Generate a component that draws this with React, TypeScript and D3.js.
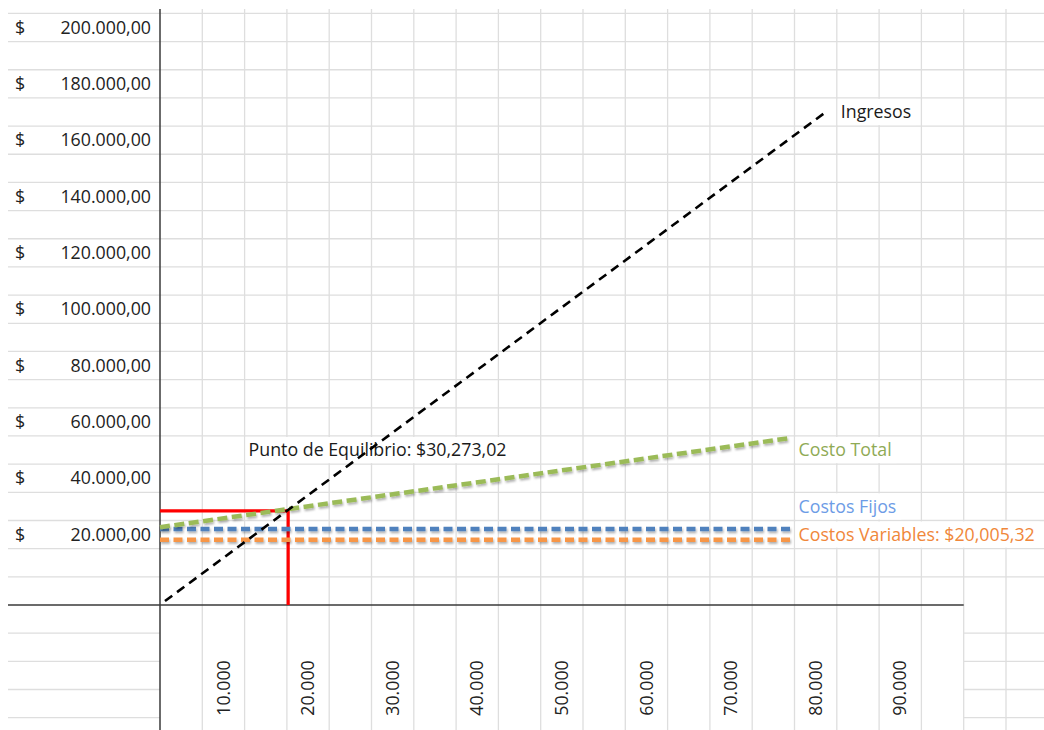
import React, { useEffect, useRef } from 'react';
import * as d3 from 'd3';

// axis ticks (units sold / money)
const xTicks = [10000, 20000, 30000, 40000, 50000, 60000, 70000, 80000, 90000];
const yTicks = [20000, 40000, 60000, 80000, 100000, 120000, 140000, 160000, 180000, 200000];

// series: [start, end]
const ingresosUnits = [590, 78700];
const ingresosValues = [1400, 175000];
const costoTotalUnits = [0, 74550];
const costoTotalValues = [27600, 59300];
const costosFijosUnits = [0, 74800];
const costosFijosValues = [27000, 27000];
const costosVariablesUnits = [0, 74800];
const costosVariablesValues = [23200, 23200];

const equilibrioUnits = 15150;
const equilibrioValue = 33400;

const labelIngresos = 'Ingresos';
const labelCostoTotal = 'Costo Total';
const labelCostosFijos = 'Costos Fijos';
const labelCostosVariables = 'Costos Variables: $20,005,32';
const labelEquilibrio = 'Punto de Equilibrio: $30,273,02';

const FONT = "'Open Sans', 'Noto Sans', sans-serif";

const App = () => {
    const ref = useRef<SVGSVGElement | null>(null);

    useEffect(() => {
        const W = 1044;
        const H = 730;
        const svg = d3.select(ref.current);
        svg.selectAll('*').remove();

        const x = d3.scaleLinear().domain([0, 95000]).range([160, 963.7]);
        const y = d3.scaleLinear().domain([0, 210000]).range([605, 13.4]);
        const colW = x(5000) - x(0);
        const rowH = y(0) - y(10000);

        const loc = d3.formatLocale({ decimal: ',', thousands: '.', grouping: [3], currency: ['$', ''] });
        const fmtMoney = loc.format(',.2f');
        const fmtUnits = loc.format(',.0f');

        // shadow in user space so flat (horizontal) lines still render
        const defs = svg.append('defs');
        const f = defs.append('filter').attr('id', 'shadow')
            .attr('filterUnits', 'userSpaceOnUse')
            .attr('x', 0).attr('y', 0).attr('width', W).attr('height', H);
        f.append('feDropShadow').attr('dx', 1).attr('dy', 2).attr('stdDeviation', 1.3)
            .attr('flood-color', '#000').attr('flood-opacity', 0.3);

        svg.append('rect').attr('width', W).attr('height', H).attr('fill', '#fff');

        // spreadsheet grid
        const grid = svg.append('g').attr('stroke', '#dedede').attr('stroke-width', 1.3);
        const hVals = d3.range(10000, 215000, 10000);
        grid.selectAll('.hg').data(hVals).enter().append('line')
            .attr('x1', 8).attr('x2', W)
            .attr('y1', d => y(d)).attr('y2', d => y(d));
        const belowVals = d3.range(-10000, -50000, -10000);
        grid.selectAll('.hl').data(belowVals).enter().append('line')
            .attr('x1', 8).attr('x2', x(0))
            .attr('y1', d => y(d)).attr('y2', d => y(d));
        grid.selectAll('.hr').data(belowVals).enter().append('line')
            .attr('x1', x(95000)).attr('x2', W)
            .attr('y1', d => y(d)).attr('y2', d => y(d));
        grid.selectAll('.vg').data(d3.range(5000, 110000, 5000)).enter().append('line')
            .attr('x1', d => x(d)).attr('x2', d => x(d))
            .attr('y1', 9).attr('y2', H);

        // text cells with white fill
        const labels = svg.append('g').attr('font-family', FONT).attr('font-size', 17.8);
        const addLabel = (text, u, v, color) => {
            const g = labels.append('g');
            const r = g.append('rect').attr('fill', '#fff');
            const t = g.append('text')
                .attr('x', x(u) + 4)
                .attr('y', y(v))
                .attr('dy', '0.35em')
                .attr('fill', color)
                .text(text);
            const w = (t.node() as SVGTextElement).getComputedTextLength();
            r.attr('x', x(u) + 1).attr('y', y(v) - rowH / 2 + 1)
                .attr('width', Math.min(w + 8, W - x(u) - 1)).attr('height', rowH - 2);
            return g;
        };

        // axes
        svg.append('line').attr('x1', x(0)).attr('x2', x(0)).attr('y1', 9).attr('y2', H)
            .attr('stroke', '#3a3a3a').attr('stroke-width', 1.5);
        svg.append('line').attr('x1', 8).attr('x2', x(95000)).attr('y1', y(0)).attr('y2', y(0))
            .attr('stroke', '#3a3a3a').attr('stroke-width', 1.6);

        // y tick labels
        const yl = svg.append('g').attr('font-family', FONT).attr('font-size', 17.8).attr('fill', '#222');
        yl.selectAll('.ys').data(yTicks).enter().append('text')
            .attr('x', 15).attr('y', d => y(d) - rowH / 2).attr('dy', '0.35em').text('$');
        yl.selectAll('.yn').data(yTicks).enter().append('text')
            .attr('x', 151).attr('y', d => y(d) - rowH / 2).attr('dy', '0.35em')
            .attr('text-anchor', 'end').text(d => fmtMoney(d));

        // x tick labels, rotated
        const xl = svg.append('g').attr('font-family', FONT).attr('font-size', 17.8).attr('fill', '#222');
        xl.selectAll('text').data(xTicks).enter().append('text')
            .attr('transform', d => `translate(${x(d) - colW / 2},688) rotate(-90)`)
            .attr('text-anchor', 'middle').attr('dy', '0.35em')
            .text(d => fmtUnits(d));

        // break-even marker
        svg.append('path')
            .attr('d', d3.line()([
                [x(0), y(equilibrioValue)],
                [x(equilibrioUnits), y(equilibrioValue)],
                [x(equilibrioUnits), y(0)],
            ]))
            .attr('fill', 'none').attr('stroke', '#ff0000').attr('stroke-width', 3.2);

        const line = d3.line<[number, number]>().x(d => x(d[0])).y(d => y(d[1]));
        const series = [
            { u: costosVariablesUnits, v: costosVariablesValues, color: '#f79646', w: 4.5, dash: '9,4.5', shadow: true },
            { u: costosFijosUnits, v: costosFijosValues, color: '#4f81bd', w: 4.5, dash: '9,4.5', shadow: true },
            { u: costoTotalUnits, v: costoTotalValues, color: '#9bbb59', w: 4.5, dash: '10,4.5', shadow: true },
            { u: ingresosUnits, v: ingresosValues, color: '#000', w: 2.6, dash: '9,6', shadow: false },
        ];

        // label cells sit under the drawn lines
        addLabel(labelEquilibrio, 10000, 55000, '#1a1a1a');
        addLabel(labelIngresos, 80000, 175000, '#1a1a1a');
        addLabel(labelCostoTotal, 75000, 55000, '#8faa55');
        addLabel(labelCostosFijos, 75000, 35000, '#6d9ce6');
        addLabel(labelCostosVariables, 75000, 25000, '#f0873a');

        series.forEach(s => {
            svg.append('path')
                .attr('d', line(s.u.map((u, i) => [u, s.v[i]] as [number, number])))
                .attr('fill', 'none')
                .attr('stroke', s.color)
                .attr('stroke-width', s.w)
                .attr('stroke-dasharray', s.dash)
                .attr('filter', s.shadow ? 'url(#shadow)' : null);
        });
    }, []);

    return (
        <svg ref={ref} width={1044} height={730}
            style={{ position: 'absolute', left: 0, top: 0, display: 'block' }} />
    );
};

export default App;
